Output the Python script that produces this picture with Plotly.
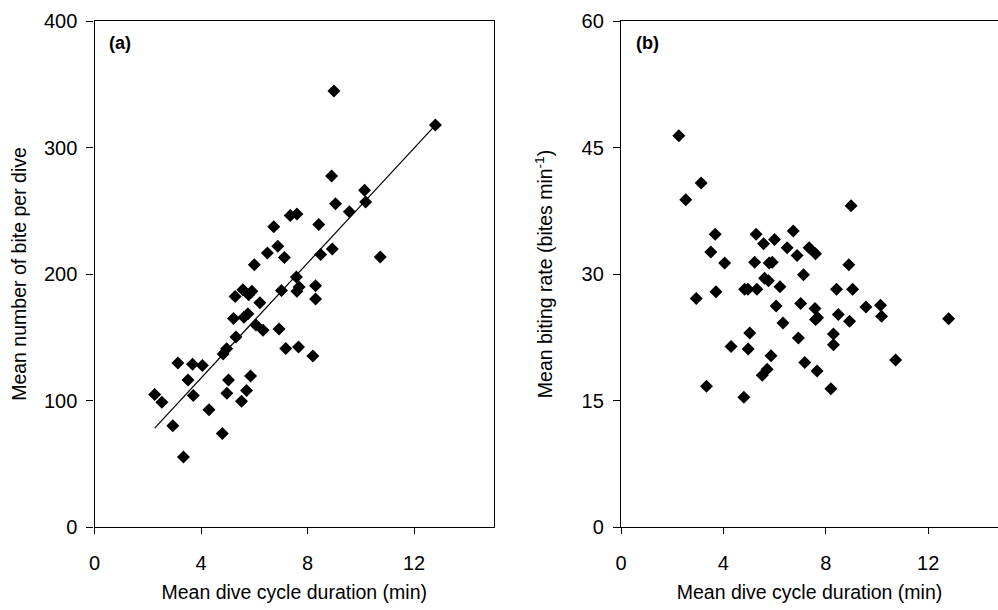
import plotly.graph_objects as go

# Mean dive cycle duration (min), shared by both panels
duration = [2.26, 2.53, 2.94, 3.13, 3.34, 3.51, 3.68, 3.71, 4.05, 4.30,
            4.80, 4.83, 4.96, 5.03, 4.97, 5.22, 5.28, 5.31, 5.52, 5.57,
            5.61, 5.71, 5.76, 5.79, 5.91, 5.86, 6.00, 6.06, 6.21, 6.33,
            6.49, 6.73, 6.88, 6.93, 7.02, 7.13, 7.18, 7.35, 7.60, 7.58,
            7.60, 7.68, 7.66, 8.20, 8.30, 8.30, 8.42, 8.49, 8.90, 8.93,
            8.99, 9.05, 9.57, 10.14, 10.18, 10.73, 12.80]

# (a) Mean number of bites per dive
bites_per_dive = [104.8, 98.7, 80.1, 129.7, 55.4, 116.2, 128.7, 104.0, 127.6, 92.6,
                  74.0, 136.7, 140.9, 116.2, 105.8, 164.8, 182.3, 150.2, 99.5, 187.6,
                  165.9, 108.0, 168.5, 183.6, 186.3, 119.4, 207.3, 159.7, 177.3, 155.5,
                  216.6, 237.3, 221.9, 156.6, 186.9, 213.1, 141.2, 246.3, 247.4, 197.7,
                  186.3, 189.8, 142.2, 135.1, 190.8, 180.2, 239.2, 215.5, 277.4, 219.8,
                  344.6, 255.6, 249.3, 266.3, 257.0, 213.4, 317.8]

# (b) Mean biting rate (bites per min)
biting_rate = [46.4, 38.8, 27.1, 40.8, 16.7, 32.6, 34.7, 27.9, 31.3, 21.4,
               15.4, 28.2, 28.2, 23.0, 21.1, 31.4, 34.7, 28.2, 18.0, 33.6,
               29.5, 18.7, 29.2, 31.3, 31.4, 20.3, 34.1, 26.2, 28.5, 24.2,
               33.1, 35.1, 32.2, 22.4, 26.5, 29.9, 19.5, 33.1, 32.4, 25.9,
               24.6, 24.8, 18.5, 16.4, 22.9, 21.6, 28.2, 25.2, 31.1, 24.4,
               38.1, 28.2, 26.1, 26.3, 25.0, 19.8, 24.7]

# Regression line of panel (a)
fit_intercept = 26.8
fit_slope = 22.73

x_ticks = [0, 4, 8, 12]
y_ticks_a = [0, 100, 200, 300, 400]
y_ticks_b = [0, 15, 30, 45, 60]

FONT = "Liberation Sans, Arial, sans-serif"
W, H = 998, 610

fig = go.Figure()

marker = dict(symbol="diamond", size=10, color="black", line=dict(width=0))

fig.add_trace(go.Scatter(x=duration, y=bites_per_dive, mode="markers",
                         marker=marker, xaxis="x", yaxis="y", showlegend=False))
xmin, xmax = min(duration), max(duration)
fig.add_trace(go.Scatter(x=[xmin, xmax],
                         y=[fit_intercept + fit_slope * xmin, fit_intercept + fit_slope * xmax],
                         mode="lines", line=dict(color="black", width=1.2),
                         xaxis="x", yaxis="y", showlegend=False))
fig.add_trace(go.Scatter(x=duration, y=biting_rate, mode="markers",
                         marker=marker, xaxis="x2", yaxis="y2", showlegend=False))

y_dom = [1 - 527 / H, 1 - 21 / H]

title_font = dict(family=FONT, size=19.5, color="black")
tick_font = dict(family=FONT, size=20, color="black")
common_x = dict(tickmode="array", tickvals=x_ticks, ticks="outside", ticklen=6,
                tickwidth=1, tickcolor="black", showline=True, linecolor="black",
                linewidth=1.3, showgrid=False, zeroline=False, automargin=False,
                tickfont=tick_font, ticklabelstandoff=12,
                title=dict(text="Mean dive cycle duration (min)",
                           font=title_font, standoff=12))
common_y = dict(ticks="outside", ticklen=7, tickwidth=1, tickcolor="black",
                showline=True, linecolor="black", linewidth=1.3, showgrid=False,
                zeroline=False, automargin=False, tickfont=tick_font,
                ticklabelstandoff=5)

fig.update_layout(
    width=W, height=H,
    margin=dict(l=0, r=0, t=0, b=0, autoexpand=False),
    paper_bgcolor="white", plot_bgcolor="white",
    xaxis=dict(domain=[94.5 / W, 494 / W], range=[0, 15], mirror=True,
               anchor="y", **common_x),
    yaxis=dict(domain=y_dom, range=[0, 400], tickmode="array", tickvals=y_ticks_a,
               mirror=True, anchor="x",
               title=dict(text="Mean number of bite per dive", font=title_font, standoff=12),
               **common_y),
    xaxis2=dict(domain=[621 / W, 1.0], range=[0, 14.73], mirror=True,
                anchor="y2", **common_x),
    yaxis2=dict(domain=y_dom, range=[0, 60], tickmode="array", tickvals=y_ticks_b,
                mirror=False, anchor="x2",
                title=dict(text="Mean biting rate (bites min<sup>-1</sup>)",
                           font=title_font, standoff=23),
                **common_y),
    annotations=[
        dict(text="<b>(a)</b>", xref="paper", yref="paper", x=107 / W, y=1 - 43 / H,
             xanchor="left", yanchor="middle", showarrow=False,
             font=dict(family=FONT, size=18, color="black")),
        dict(text="<b>(b)</b>", xref="paper", yref="paper", x=634 / W, y=1 - 43 / H,
             xanchor="left", yanchor="middle", showarrow=False,
             font=dict(family=FONT, size=18, color="black")),
    ],
)

fig.write_html("out.html", config={"displayModeBar": False},
               post_script="document.body.style.margin='0';document.body.style.overflow='hidden';")
